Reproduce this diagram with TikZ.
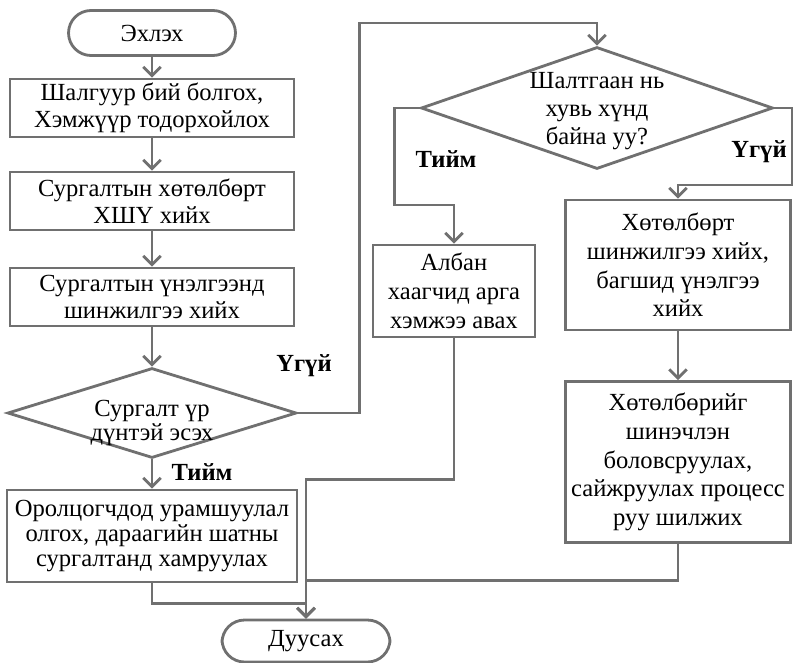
\documentclass[tikz,border=0pt]{standalone}
\usepackage{fontspec}
\setmainfont{Liberation Serif}
\usepackage{tikz}
\usetikzlibrary{positioning,calc,arrows.meta,shapes.geometric}
\definecolor{linegray}{RGB}{112,112,112}

\begin{document}
\begin{tikzpicture}[x=0.02cm,y=-0.02cm,font=\fontsize{14}{15.5}\selectfont,
    box/.style={rectangle,draw=linegray,line width=1.6pt,align=center,inner sep=2pt},
    term/.style={rectangle,rounded corners=0.45cm,draw=linegray,line width=1.6pt,minimum height=0.9cm},
    decide/.style={diamond,draw=linegray,line width=1.6pt,inner sep=0pt},
    txt/.style={align=center,inner sep=0pt},
    answer/.style={font=\fontsize{14}{15}\selectfont\bfseries},
    arr/.style={draw=linegray,line width=1.6pt,-{Straight Barb[length=5pt,width=10pt]}}]
\useasboundingbox (0,0) rectangle (793,662);
\node[term,minimum width=3.34cm] (start) at (152,33) {Эхлэх};
\node[box,minimum width=5.68cm,minimum height=1.16cm] (crit) at (152,108) {Шалгуур бий болгох,\\Хэмжүүр тодорхойлох};
\node[box,minimum width=5.68cm,minimum height=1.16cm] (plan) at (152,201) {Сургалтын хөтөлбөрт\\ХШҮ хийх};
\node[box,minimum width=5.68cm,minimum height=1.16cm] (eval) at (152,297) {Сургалтын үнэлгээнд\\шинжилгээ хийх};
\node[decide,minimum width=5.78cm,minimum height=1.8cm] (ok) at (152,413) {};
\node[txt,font=\fontsize{14}{12.5}\selectfont] (oktext) at (152,423) {Сургалт үр\\дүнтэй эсэх};
\node[box,minimum width=5.8cm,minimum height=1.84cm,font=\fontsize{14}{14.2}\selectfont] (reward) at (152,536) {Оролцогчдод урамшуулал\\олгох, дараагийн шатны\\сургалтанд хамруулах};
\node[term,minimum width=3.36cm,minimum height=0.84cm] (stop) at (306,641) {Дуусах};

\node[decide,minimum width=7.04cm,minimum height=2.44cm] (cause) at (597,108) {};
\node[txt,font=\fontsize{14}{16}\selectfont] (causetext) at (597,111) {Шалтгаан нь\\хувь хүнд\\байна уу?};
\node[box,minimum width=3.24cm,minimum height=1.84cm,font=\fontsize{14}{16.5}\selectfont] (staff) at (454,291) {Албан\\хаагчид арга\\хэмжээ авах};
\node[box,minimum width=4.5cm,minimum height=2.6cm,font=\fontsize{14}{16.3}\selectfont] (review) at (678,265) {Хөтөлбөрт\\шинжилгээ хийх,\\багшид үнэлгээ\\хийх};
\node[box,minimum width=4.5cm,minimum height=3.22cm,font=\fontsize{14}{16.3}\selectfont] (renew) at (678,462) {Хөтөлбөрийг\\шинэчлэн\\боловсруулах,\\сайжруулах процесс\\руу шилжих};

\node[answer] (no1) at (304,366) {Үгүй};
\node[answer] (yes1) at (202,472) {Тийм};
\node[answer] (yes2) at (446,159) {Тийм};
\node[answer] (no2) at (759,152) {Үгүй};

\foreach \a/\b in {start/crit,crit/plan,plan/eval,eval/ok,ok/reward,review/renew}
    \draw[arr] (\a.south) -- (\b.north);
\draw[arr] (ok.east) -| ++(62,-390) -| (cause.north);
\draw[arr] (cause.west) -| ++(-25,97) -| (staff.north);
\draw[arr] (cause.east) -| ++(18,77) -| (review.north);
\draw[arr] (staff.south) -- ++(0,141) -| (stop.north);
\draw[arr] (renew.south) -- ++(0,37) -| (stop.north);
\draw[arr] (reward.south) -- ++(0,20) -| (stop.north);
\end{tikzpicture}
\end{document}
